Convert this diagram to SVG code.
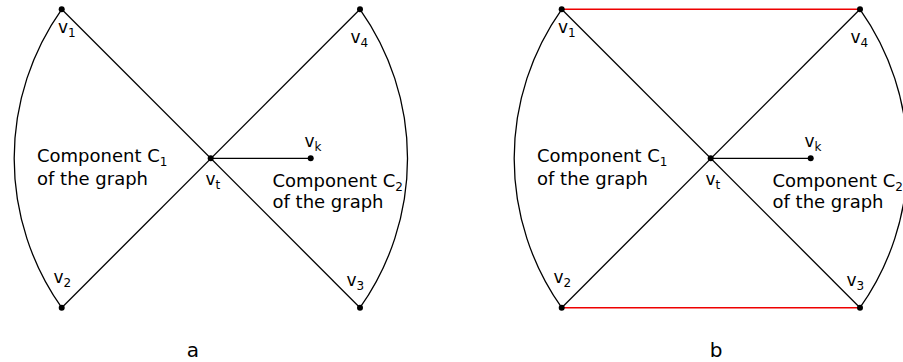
<svg xmlns="http://www.w3.org/2000/svg" width="903" height="362" viewBox="0 0 903 362">
<style>
text{font-family:"DejaVu Sans","Verdana",sans-serif;fill:#000}
.v{font-size:17px}
.c{font-size:18px}
.s{font-size:12px}
.cap{font-size:20px}
.e{stroke:#000;stroke-width:1.3;fill:none}
.r{stroke:#ee0000;stroke-width:1.4;fill:none}
.d{fill:#000}
</style>
<rect width="903" height="362" fill="#fff"/>
<g id="panel-a">
<g id="connectors-a">
<path class="e" d="M61.7,9.3 A258,258 0 0 0 61.7,307.7"/>
<path class="e" d="M360,9.3 A258,258 0 0 1 360,307.7"/>
<line class="e" x1="61.7" y1="9.3" x2="360" y2="307.7"/>
<line class="e" x1="360" y1="9.3" x2="61.7" y2="307.7"/>
<line class="e" x1="210.7" y1="158.3" x2="310.7" y2="158.3"/>
</g>
<g id="a-v1"><circle class="d" cx="61.7" cy="9.3" r="3"/><text class="v" x="58" y="33">v<tspan class="s" dy="4">1</tspan></text></g>
<g id="a-v4"><circle class="d" cx="360" cy="9.3" r="3"/><text class="v" x="350.5" y="42.5">v<tspan class="s" dy="4">4</tspan></text></g>
<g id="a-v2"><circle class="d" cx="61.7" cy="307.7" r="3"/><text class="v" x="53.5" y="283">v<tspan class="s" dy="4">2</tspan></text></g>
<g id="a-v3"><circle class="d" cx="360" cy="307.7" r="3"/><text class="v" x="346.5" y="285.5">v<tspan class="s" dy="4">3</tspan></text></g>
<g id="a-vt"><circle class="d" cx="210.7" cy="158.3" r="3"/><text class="v" x="205.5" y="185">v<tspan class="s" dy="4">t</tspan></text></g>
<g id="a-vk"><circle class="d" cx="310.7" cy="158.3" r="3"/><text class="v" x="304.5" y="146.5">v<tspan class="s" dy="4">k</tspan></text></g>
<g id="a-C1"><text class="c" x="37" y="162">Component C<tspan class="s" dy="4">1</tspan></text><text class="c" x="37" y="185">of the graph</text></g>
<g id="a-C2"><text class="c" x="272.5" y="186.5">Component C<tspan class="s" dy="4">2</tspan></text><text class="c" x="272.5" y="208">of the graph</text></g>
<text class="cap" x="193" y="357" text-anchor="middle">a</text>
</g>
<g id="panel-b">
<g id="connectors-b">
<path class="e" d="M561.7,9.3 A258,258 0 0 0 561.7,307.7"/>
<path class="e" d="M860,9.3 A258,258 0 0 1 860,307.7"/>
<line class="e" x1="561.7" y1="9.3" x2="860" y2="307.7"/>
<line class="e" x1="860" y1="9.3" x2="561.7" y2="307.7"/>
<line class="e" x1="710.7" y1="158.3" x2="810.7" y2="158.3"/>
<line class="r" x1="561.7" y1="9.3" x2="860" y2="9.3"/>
<line class="r" x1="561.7" y1="307.7" x2="860" y2="307.7"/>
</g>
<g id="b-v1"><circle class="d" cx="561.7" cy="9.3" r="3"/><text class="v" x="558" y="33">v<tspan class="s" dy="4">1</tspan></text></g>
<g id="b-v4"><circle class="d" cx="860" cy="9.3" r="3"/><text class="v" x="850.5" y="42.5">v<tspan class="s" dy="4">4</tspan></text></g>
<g id="b-v2"><circle class="d" cx="561.7" cy="307.7" r="3"/><text class="v" x="553.5" y="283">v<tspan class="s" dy="4">2</tspan></text></g>
<g id="b-v3"><circle class="d" cx="860" cy="307.7" r="3"/><text class="v" x="846.5" y="285.5">v<tspan class="s" dy="4">3</tspan></text></g>
<g id="b-vt"><circle class="d" cx="710.7" cy="158.3" r="3"/><text class="v" x="705.5" y="185">v<tspan class="s" dy="4">t</tspan></text></g>
<g id="b-vk"><circle class="d" cx="810.7" cy="158.3" r="3"/><text class="v" x="804.5" y="146.5">v<tspan class="s" dy="4">k</tspan></text></g>
<g id="b-C1"><text class="c" x="537" y="162">Component C<tspan class="s" dy="4">1</tspan></text><text class="c" x="537" y="185">of the graph</text></g>
<g id="b-C2"><text class="c" x="772.5" y="186.5">Component C<tspan class="s" dy="4">2</tspan></text><text class="c" x="772.5" y="208">of the graph</text></g>
<text class="cap" x="716" y="357" text-anchor="middle">b</text>
</g>
</svg>
